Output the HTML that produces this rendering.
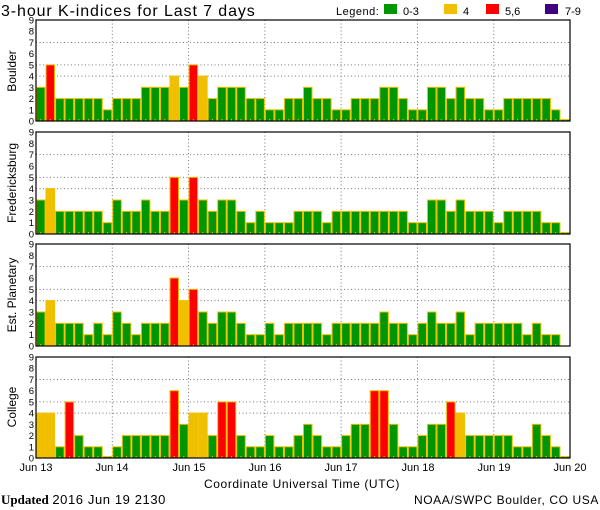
<!DOCTYPE html>
<html><head><meta charset="utf-8"><style>
html,body{margin:0;padding:0;background:#fff;}
svg{display:block;font-family:"Liberation Sans",sans-serif;}
</style></head><body>
<svg id="s" width="600" height="510" viewBox="0 0 600 510" xmlns="http://www.w3.org/2000/svg">
<text x="1" y="16" font-size="16" letter-spacing="0.9" fill="#000">3-hour K-indices for Last 7 days</text>
<text x="336" y="15" font-size="11" letter-spacing="0.5" fill="#000">Legend:</text>
<rect x="384" y="4" width="13" height="10" fill="#009600"/><text x="403" y="15" font-size="11">0-3</text>
<rect x="444" y="4" width="13" height="10" fill="#f0c000"/><text x="463" y="15" font-size="11">4</text>
<rect x="486" y="4" width="13" height="10" fill="#ff0000"/><text x="505" y="15" font-size="11">5,6</text>
<rect x="545" y="4" width="13" height="10" fill="#400080"/><text x="565" y="15" font-size="11">7-9</text>
<g id="g"></g>
<text transform="translate(16,71) rotate(-90)" text-anchor="middle" font-size="12">Boulder</text>
<text transform="translate(16,183) rotate(-90)" text-anchor="middle" font-size="12">Fredericksburg</text>
<text transform="translate(16,295) rotate(-90)" text-anchor="middle" font-size="12">Est. Planetary</text>
<text transform="translate(16,407) rotate(-90)" text-anchor="middle" font-size="12">College</text>
<g font-size="11" text-anchor="middle">
<text x="36" y="471">Jun 13</text><text x="112" y="471">Jun 14</text><text x="189" y="471">Jun 15</text><text x="265" y="471">Jun 16</text><text x="341" y="471">Jun 17</text><text x="418" y="471">Jun 18</text><text x="494" y="471">Jun 19</text><text x="570" y="471">Jun 20</text>
</g>
<text x="302" y="488" font-size="12" letter-spacing="0.6" text-anchor="middle">Coordinate Universal Time (UTC)</text>
<text x="1" y="504" font-size="13"><tspan font-weight="bold" font-family="Liberation Serif,serif">Updated</tspan> <tspan letter-spacing="0.6">2016 Jun 19 2130</tspan></text>
<text x="599" y="504" font-size="12" letter-spacing="0.6" text-anchor="end">NOAA/SWPC Boulder, CO USA</text>
<g font-size="9.5" text-anchor="end" id="yl"></g>
</svg>
<script>
var P=[[20,121,[3,5,2,2,2,2,2,1,2,2,2,3,3,3,4,3,5,4,2,3,3,3,2,2,1,1,2,2,3,2,2,1,1,2,2,2,3,3,2,1,1,3,3,2,3,2,2,1,1,2,2,2,2,2,1,0]],
[132,234,[3,4,2,2,2,2,2,1,3,2,2,3,2,2,5,3,5,3,2,3,3,2,1,2,1,1,1,2,2,2,1,2,2,2,2,2,2,2,2,1,1,3,3,2,3,2,2,2,1,2,2,2,2,1,1,0]],
[244,346,[3,4,2,2,2,1,2,1,3,2,1,2,2,2,6,4,5,3,2,3,3,2,1,1,2,1,2,2,2,2,1,2,2,2,2,2,3,2,2,1,2,3,2,2,3,1,2,2,2,2,2,1,2,1,1,null]],
[357,458,[4,4,1,5,2,1,1,0,1,2,2,2,2,2,6,3,4,4,2,5,5,2,1,1,2,1,1,2,3,2,1,1,2,3,3,6,6,3,1,1,2,3,3,5,4,2,2,2,2,2,1,1,3,2,1,0]]];
var h='',yl='',L=36,R=570,W=(R-L)/56;
P.forEach(function(p){var T=p[0],B=p[1],u=(B-T)/9;
[4,5,7].forEach(function(v){var y=B-v*u;h+='<line x1="'+L+'" x2="'+R+'" y1="'+y+'" y2="'+y+'" stroke="#777" stroke-dasharray="1,2.5"/>';});
for(var k=1;k<7;k++){var x=L+k*76.29;h+='<line x1="'+x+'" x2="'+x+'" y1="'+T+'" y2="'+B+'" stroke="#777" stroke-dasharray="1,2.5"/>';}
p[2].forEach(function(v,i){if(v===null)return;var x=L+i*W,hh=v==0?1.5:v*u;var c=v<=3?'#009600':v==4?'#f0c000':v<=6?'#ff0000':'#400080';
h+='<rect x="'+(x+0.5)+'" y="'+(B-hh)+'" width="'+(W-1)+'" height="'+hh+'" fill="'+c+'" stroke="#f0c000" stroke-width="1"/>';
h+='<line x1="'+(x+W/2)+'" x2="'+(x+W/2)+'" y1="'+(B-2)+'" y2="'+B+'" stroke="#f0c000"/>';});
h+='<rect x="'+L+'" y="'+T+'" width="'+(R-L)+'" height="'+(B-T)+'" fill="none" stroke="#000" stroke-width="1.2"/>';
for(var v=0;v<=9;v++){yl+='<text x="34" y="'+(B-v*u+3.5)+'">'+v+'</text>';}
});
document.getElementById('g').innerHTML=h;document.getElementById('yl').innerHTML=yl;
</script>
</body></html>
